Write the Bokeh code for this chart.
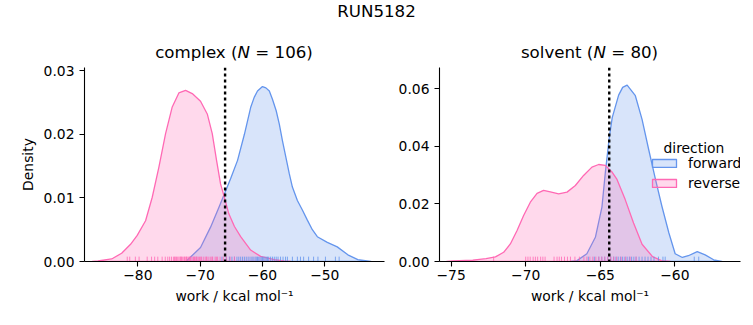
from bokeh.plotting import figure
from bokeh.models import (Span, Label, Legend, LegendItem, FixedTicker, Div, Range1d)
from bokeh.layouts import row, column
from bokeh.embed import file_html
from bokeh.resources import INLINE

# ---------------- data ----------------
SUPTITLE = "RUN5182"
directions = ["forward", "reverse"]

# complex panel, KDE curves
complex_fwd_x = [-72.3, -71.54, -69.94, -68.33, -67.0, -66.2, -65.12, -64.0, -62.9, -61.9, -61.33, -60.8,
                 -60.0, -59.45, -58.9, -58.4, -57.8, -57.3, -56.8, -56.25, -55.7, -55.2, -54.4, -53.6,
                 -52.8, -52.0, -51.2, -49.6, -48.0, -46.3, -44.7, -42.6]
complex_fwd_y = [0, 0.0007, 0.0022, 0.0054, 0.0085, 0.0104, 0.0130, 0.0159, 0.0200, 0.0242, 0.0258, 0.0268,
                 0.0275, 0.0273, 0.0268, 0.0255, 0.0237, 0.0216, 0.0190, 0.0164, 0.0138, 0.0117, 0.0096, 0.0081,
                 0.0065, 0.0050, 0.0039, 0.0030, 0.0023, 0.00105, 0.0003, 0]
complex_rev_x = [-87.3, -86.4, -84.2, -82.6, -81.17, -80.1, -78.76, -77.69, -76.63, -75.55, -74.48, -73.42,
                 -72.34, -71.27, -69.94, -68.86, -68.06, -67.37, -66.73, -66.2, -65.4, -64.5, -63.5, -61.9,
                 -60.3, -58.1, -56.6, -55.5]
complex_rev_y = [0, 0.0001, 0.0004, 0.0013, 0.0027, 0.0041, 0.0064, 0.0101, 0.0148, 0.0201, 0.0243, 0.0265,
                 0.0269, 0.0264, 0.0252, 0.0232, 0.0201, 0.0159, 0.0122, 0.0104, 0.0075, 0.0055, 0.0039, 0.0018,
                 0.0008, 0.0003, 0.0001, 0]

# solvent panel
solvent_fwd_x = [-67.0, -66.56, -65.9, -65.33, -64.89, -64.66, -64.4, -64.2, -63.77, -63.5, -63.2, -62.65,
                 -62.2, -61.76, -61.3, -60.87, -60.4, -59.98, -59.5, -59.1, -58.5, -57.97, -57.4, -56.85]
solvent_fwd_y = [0, 0.0003, 0.0027, 0.0084, 0.0189, 0.0310, 0.0430, 0.0500, 0.0578, 0.0605, 0.0613, 0.0576,
                 0.0494, 0.0390, 0.0285, 0.0192, 0.0099, 0.0027, 0.0014, 0.0020, 0.0034, 0.0023, 0.0006, 0]
solvent_rev_x = [-75.3, -74.9, -73.55, -72.66, -72.03, -71.48, -71.03, -70.58, -70.14, -69.69, -69.24,
                 -68.8, -68.35, -67.79, -67.23, -66.67, -66.12, -65.56, -65.11, -64.66, -64.2, -63.88,
                 -63.33, -62.77, -62.2, -61.5, -60.9, -60.3]
solvent_rev_y = [0, 0.0002, 0.0005, 0.0010, 0.0016, 0.0032, 0.0061, 0.0108, 0.0160, 0.0206, 0.0237,
                 0.0247, 0.0242, 0.0235, 0.0241, 0.0264, 0.0299, 0.0328, 0.0337, 0.0334, 0.0310, 0.0285,
                 0.0215, 0.0134, 0.0060, 0.0017, 0.0003, 0]

# rug samples (approximate positions)
complex_fwd_rug = [-66.5, -65.8, -65.3, -64.9, -64.5, -64.1, -63.8, -63.5, -63.2, -62.9, -62.6, -62.3,
                   -62.0, -61.7, -61.5, -61.2, -61.0, -60.8, -60.6, -60.4, -60.2, -60.0, -59.8, -59.6,
                   -59.4, -59.2, -59.0, -58.7, -58.4, -58.1, -57.8, -57.5, -57.1, -56.7, -56.3, -56.0,
                   -55.2, -54.4, -53.9, -53.4, -52.6, -51.8, -51.1, -49.9, -48.3, -47.7]
complex_rev_rug = [-81.7, -81.3, -80.4, -79.8, -78.5, -77.8, -77.3, -76.8, -76.1, -75.6, -75.2, -74.9,
                   -74.6, -74.3, -74.1, -74.0, -73.8, -73.6, -73.4, -73.2, -73.1, -73.0, -72.8, -72.6,
                   -72.5, -72.3, -72.2, -72.1, -71.9, -71.7, -71.6, -71.5, -71.3, -71.1, -71.0, -70.9,
                   -70.7, -70.6, -70.5, -70.3, -70.1, -69.9, -69.8, -69.5, -69.2, -69.0, -68.9, -68.6,
                   -68.3, -68.1, -68.0, -67.6, -67.4, -67.2, -66.8, -66.3, -65.8, -65.2, -64.5]
solvent_fwd_rug = [-65.8, -65.4, -65.1, -64.9, -64.7, -64.5, -64.3, -64.1, -63.95, -63.8, -63.65, -63.5,
                   -63.35, -63.2, -63.05, -62.9, -62.75, -62.6, -62.4, -62.2, -62.0, -61.8, -61.6, -61.4,
                   -61.1, -60.8, -60.65, -58.7, -58.4]
solvent_rev_rug = [-72.15, -70.0, -69.85, -69.7, -69.5, -69.35, -69.2, -69.0, -68.85, -68.7, -68.1, -67.9,
                   -67.75, -67.6, -67.4, -67.2, -67.0, -66.7, -66.4, -66.1, -65.9, -65.7, -65.5, -65.3,
                   -65.1, -64.9, -64.7, -64.5, -64.3, -64.1, -63.9, -63.6, -63.3, -63.0, -62.6]

# dotted reference lines (free-energy estimates)
complex_estimate = -66.0
solvent_estimate = -64.4

# panel titles
complex_title = ("complex (", "N", " = 106)")
solvent_title = ("solvent (", "N", " = 80)")
x_label = "work / kcal mol\u207b\u00b9"
y_label = "Density"
legend_title = "direction"

complex_xticks = [-80, -70, -60, -50]
complex_yticks = [0.0, 0.01, 0.02, 0.03]
solvent_xticks = [-75, -70, -65, -60]
solvent_yticks = [0.0, 0.02, 0.04, 0.06]

# ---------------- style ----------------
FONT = "DejaVu Sans"
BLUE = "#6495ED"
PINK = "#FF69B4"
TICK_FS = "13.89px"
TITLE_FS = "16.67px"


def fmt_x(t):
    return ("\u2212" + str(abs(t))) if t < 0 else str(t)


def make_fig(width, ml, mr, xr, yr, xticks, yticks, ylab):
    p = figure(width=width, height=261, x_range=Range1d(*xr), y_range=Range1d(*yr),
               output_backend="svg", toolbar_location=None,
               min_border_left=ml, min_border_right=mr, min_border_top=3, min_border_bottom=64)
    p.outline_line_color = None
    p.xgrid.visible = False
    p.ygrid.visible = False
    p.background_fill_color = "white"
    for ax in (p.xaxis[0], p.yaxis[0]):
        ax.axis_line_color = "black"
        ax.axis_line_width = 1.1
        ax.major_tick_line_color = "black"
        ax.major_tick_line_width = 1.1
        ax.major_tick_out = 5
        ax.major_tick_in = 0
        ax.minor_tick_line_color = None
        ax.major_label_text_font = FONT
        ax.major_label_text_font_size = TICK_FS
        ax.major_label_text_color = "black"
        ax.axis_label_text_font = FONT
        ax.axis_label_text_font_size = TICK_FS
        ax.axis_label_text_font_style = "normal"
        ax.axis_label_text_color = "black"
    p.xaxis.ticker = FixedTicker(ticks=xticks)
    p.xaxis.major_label_overrides = {t: fmt_x(t) for t in xticks}
    p.yaxis.ticker = FixedTicker(ticks=yticks)
    p.yaxis.major_label_overrides = {t: "%.2f" % t for t in yticks}
    p.xaxis.major_label_standoff = 3
    p.yaxis.major_label_standoff = 5
    p.xaxis.axis_label = x_label
    p.xaxis.axis_label_standoff = 5
    if ylab:
        p.yaxis.axis_label = ylab
        p.yaxis.axis_label_standoff = 5
    return p


def draw_panel(p, fx, fy, rx, ry, frug, rrug, est, yr):
    rend = {}
    for xs, ys, col, name in ((fx, fy, BLUE, "forward"), (rx, ry, PINK, "reverse")):
        rend[name] = p.patch(x=xs, y=ys, fill_color=col, fill_alpha=0.25,
                             line_color=col, line_width=1.3, line_join="round")
    rug_h = yr[1] * 0.025
    for vals, col in ((frug, BLUE), (rrug, PINK)):
        p.segment(x0=vals, y0=[0] * len(vals), x1=vals, y1=[rug_h] * len(vals),
                  line_color=col, line_width=1, line_alpha=0.8)
    p.add_layout(Span(location=est, dimension="height", line_color="black",
                      line_width=2.4, line_dash="3 3"))
    return rend


# left panel
xr1 = (-88.56, -40.42)
yr1 = (0.0, 0.0305)
p1 = make_fig(394, 84, 10, xr1, yr1, complex_xticks, complex_yticks, y_label)
draw_panel(p1, complex_fwd_x, complex_fwd_y, complex_rev_x, complex_rev_y,
           complex_fwd_rug, complex_rev_rug, complex_estimate, yr1)

# right panel
xr2 = (-75.78, -55.6)
yr2 = (0.0, 0.0674)
p2 = make_fig(359, 45, 13, xr2, yr2, solvent_xticks, solvent_yticks, None)
rend = draw_panel(p2, solvent_fwd_x, solvent_fwd_y, solvent_rev_x, solvent_rev_y,
                  solvent_fwd_rug, solvent_rev_rug, solvent_estimate, yr2)

legend = Legend(items=[LegendItem(label=d, renderers=[rend[d]]) for d in directions],
                location=(210, 70), glyph_width=30, glyph_height=10, label_height=10,
                label_standoff=9, spacing=4, padding=0, margin=0,
                border_line_color=None, background_fill_alpha=0,
                label_text_font=FONT, label_text_font_size=TICK_FS, label_text_color="black")
p2.add_layout(legend)
p2.add_layout(Label(x=xr2[0], y=yr2[1], x_offset=224, y_offset=-80, text=legend_title,
                    text_font=FONT, text_font_size=TICK_FS, text_color="black",
                    text_align="left", text_baseline="alphabetic"))


def title_html(parts):
    return "%s<i>%s</i>%s" % parts


span_css = ("position:absolute;white-space:pre;text-align:center;font-size:%s;"
            "line-height:20px;height:20px;" % TITLE_FS)
header_html = (
    '<div style="position:relative;width:753px;height:64px;font-family:\'DejaVu Sans\';color:black;">'
    '<span style="%sleft:0px;width:753px;top:2px;">%s</span>'
    '<span style="%sleft:84px;width:300px;top:43px;">%s</span>'
    '<span style="%sleft:439px;width:301px;top:43px;">%s</span>'
    '</div>'
) % (span_css, SUPTITLE, span_css, title_html(complex_title), span_css, title_html(solvent_title))

header = Div(text=header_html, width=753, height=64, margin=(0, 0, 0, 0))

layout = column(header, row(p1, p2, spacing=0), spacing=0)
open("out.html", "w").write(file_html(layout, INLINE))
